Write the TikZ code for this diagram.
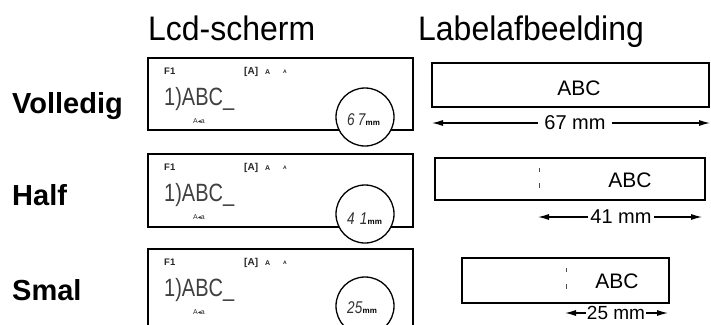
\documentclass[tikz,border=0pt]{standalone}
\usepackage{fontspec}
\setmainfont{Liberation Sans}
\newfontfamily\titlefont[FakeStretch=0.94]{Liberation Sans}
\newfontfamily\lcdfont[FakeStretch=0.8]{Liberation Sans}
\newfontfamily\symfont{DejaVu Sans}
\usetikzlibrary{arrows.meta}
\tikzset{
  lcdbox/.style={draw, line width=1.8pt, minimum width=265pt, inner sep=0pt},
  labbox/.style={draw, line width=1.2pt, inner sep=0pt},
  rowlab/.style={anchor=base west, inner sep=0pt, font=\bfseries\fontsize{29}{29}\selectfont},
  coltitle/.style={anchor=base west, inner sep=0pt, font=\titlefont\fontsize{34}{34}\selectfont},
  dimline/.style={line width=1.2pt, -{Latex[length=11pt,width=6pt]}},
  dimtext/.style={font=\fontsize{20}{20}\selectfont, inner ysep=0pt},
  abctext/.style={font=\fontsize{21}{21}\selectfont, inner sep=0pt},
  readout/.style={circle, draw, fill=white, line width=1.3pt, minimum size=58pt, inner sep=0pt},
  lcdsmall/.style={anchor=base west, inner sep=0pt, text=black!85},
  lcdmain/.style={anchor=base west, inner sep=0pt, text=black!75, font=\lcdfont\fontsize{25}{25}\selectfont},
  digits/.style={anchor=base west, inner sep=0pt, text=black!80, font=\lcdfont\itshape\fontsize{17}{17}\selectfont},
  mmunit/.style={anchor=base west, inner sep=0pt, font=\bfseries\fontsize{8}{8}\selectfont},
  tick/.style={line width=0.8pt, black!70}
}
\begin{document}
\begin{tikzpicture}[x=1pt,y=-1pt]
\useasboundingbox (0,0) rectangle (711,324);
\clip (0,0) rectangle (711,324);

% column titles
\node[coltitle] (tlcd) at (148,40) {Lcd-scherm};
\node[coltitle] (tlab) at (418,40) {Labelafbeelding};

% row labels
\node[rowlab] (rv) at (12,113) {Volledig};
\node[rowlab] (rh) at (12,205) {Half};
\node[rowlab] (rs) at (12,300) {Smal};

% LCD boxes
\node[lcdbox, minimum height=72pt] (lcd1) at (280.5,94) {};
\node[lcdbox, minimum height=73pt] (lcd2) at (280.5,190.5) {};
\node[lcdbox, minimum height=84pt] (lcd3) at (280.5,291) {};

% LCD contents
\foreach \i/\T in {1/58, 2/154, 3/249}{
  \node[lcdsmall, font=\bfseries\fontsize{9.5}{9.5}\selectfont] (f\i) at (164,\T+16) {F1};
  \node[lcdsmall, font=\bfseries\fontsize{10}{10}\selectfont] (ba\i) at (244,\T+16) {[A]};
  \node[lcdsmall, font=\bfseries\fontsize{7}{7}\selectfont] (sa\i) at (265,\T+16) {A};
  \node[lcdsmall, font=\bfseries\fontsize{5}{5}\selectfont] (ta\i) at (283,\T+15) {A};
  \node[lcdmain] (txt\i) at (164,\T+47) {1)ABC\_};
  \node[lcdsmall, font=\fontsize{7}{7}\selectfont] (aa\i) at (193,\T+65) {A{\symfont\fontsize{6}{6}\selectfont ◂}a};
}

% readout circles
\node[readout] (c1) at (365,117) {};
\node[readout] (c2) at (365,214) {};
\node[readout] (c3) at (365,306) {};
\node[digits] (c1d) at (347,125) {6\kern3pt7};
\node[mmunit] (c1m) at (c1d.base east) {mm};
\node[digits] (c2d) at (347,224) {4\kern5pt1};
\node[mmunit] (c2m) at (c2d.base east) {mm};
\node[digits] (c3d) at (347,313) {25};
\node[mmunit] (c3m) at (c3d.base east) {mm};

% label images
\node[labbox, minimum width=277pt, minimum height=44pt] (lab1) at (570.5,85) {};
\node[labbox, minimum width=270pt, minimum height=42pt] (lab2) at (570,179) {};
\node[labbox, minimum width=207pt, minimum height=45pt] (lab3) at (565.5,280.5) {};
\node[abctext] (abc1) at (579,88) {ABC};
\node[abctext] (abc2) at (630,180) {ABC};
\node[abctext] (abc3) at (617,281) {ABC};

% margin marks
\draw[tick] (539,168) -- (539,172);
\draw[tick] (539,183) -- (539,188);
\draw[tick] (566,268) -- (566,272);
\draw[tick] (566,284) -- (566,289);

% dimension lines
\coordinate (d1l) at (432,123);
\coordinate (d1r) at (710,123);
\node[dimtext, inner xsep=6pt] (d1t) at (575,123) {67 mm};
\draw[dimline] (d1t) -- (d1l);
\draw[dimline] (d1t) -- (d1r);

\coordinate (d2l) at (538,217);
\coordinate (d2r) at (702,217);
\node[dimtext, inner xsep=2pt] (d2t) at (621,217) {41 mm};
\draw[dimline] (d2t) -- (d2l);
\draw[dimline] (d2t) -- (d2r);

\coordinate (d3l) at (565,313);
\coordinate (d3r) at (668,313);
\node[dimtext, inner xsep=1pt, font=\fontsize{19}{19}\selectfont] (d3t) at (616,313) {25 mm};
\draw[dimline] (d3t) -- (d3l);
\draw[dimline] (d3t) -- (d3r);
\end{tikzpicture}
\end{document}
